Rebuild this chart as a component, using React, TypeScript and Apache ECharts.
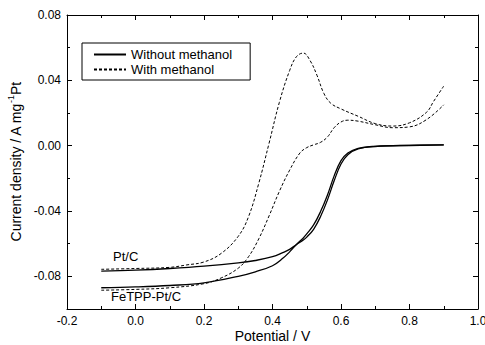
import React, { useEffect, useRef } from "react";
import * as echarts from "echarts";

// Potential (V) and current density (A mg^-1 Pt)
const ptcSolidV = [-0.1, 0, 0.1, 0.2, 0.3, 0.35, 0.4, 0.43, 0.45, 0.47, 0.49, 0.5, 0.52, 0.54, 0.56, 0.58, 0.6, 0.62, 0.65, 0.7, 0.8, 0.9];
const ptcSolidI = [-0.0768, -0.0762, -0.0752, -0.0738, -0.0718, -0.0703, -0.068, -0.0655, -0.0635, -0.0605, -0.0578, -0.056, -0.0512, -0.0435, -0.0335, -0.0215, -0.0112, -0.0055, -0.002, -0.0005, 0.0001, 0.0005];

const feSolidV = [-0.1, 0, 0.1, 0.2, 0.3, 0.35, 0.4, 0.43, 0.45, 0.47, 0.49, 0.5, 0.52, 0.54, 0.56, 0.58, 0.6, 0.62, 0.65, 0.7, 0.8, 0.9];
const feSolidI = [-0.087, -0.0865, -0.0856, -0.084, -0.08, -0.0772, -0.0735, -0.069, -0.065, -0.0605, -0.0565, -0.054, -0.0485, -0.0405, -0.0305, -0.0185, -0.0092, -0.0045, -0.0016, -0.0004, 0.0002, 0.0005];

const ptcDashV = [-0.1, 0, 0.1, 0.15, 0.2, 0.25, 0.3, 0.33, 0.36, 0.39, 0.42, 0.45, 0.47, 0.49, 0.51, 0.53, 0.55, 0.57, 0.6, 0.65, 0.7, 0.75, 0.8, 0.85, 0.87, 0.9];
const ptcDashI = [-0.0757, -0.0752, -0.0745, -0.073, -0.0712, -0.066, -0.0555, -0.0435, -0.023, 0.0015, 0.0265, 0.046, 0.0545, 0.0567, 0.052, 0.043, 0.032, 0.026, 0.0225, 0.018, 0.0135, 0.012, 0.014, 0.0205, 0.027, 0.0365];

const feDashV = [-0.1, 0, 0.1, 0.2, 0.25, 0.3, 0.33, 0.36, 0.39, 0.42, 0.45, 0.48, 0.5, 0.52, 0.54, 0.56, 0.58, 0.6, 0.62, 0.65, 0.7, 0.75, 0.8, 0.85, 0.9];
const feDashI = [-0.0885, -0.088, -0.087, -0.0845, -0.081, -0.075, -0.068, -0.057, -0.043, -0.028, -0.015, -0.0045, -0.0012, 0.0005, 0.002, 0.0052, 0.011, 0.0145, 0.0156, 0.015, 0.0128, 0.011, 0.0115, 0.016, 0.025];

const xTicks = [-0.2, 0, 0.2, 0.4, 0.6, 0.8, 1.0];
const yMajorTicks = [-0.08, -0.04, 0, 0.04, 0.08];
const yMinorTicks = [-0.1, -0.06, -0.02, 0.02, 0.06];
const legendNames = ["Without methanol", "With methanol"];
const curveLabels = ["Pt/C", "FeTPP-Pt/C"];

const FONT = "Liberation Sans, Arial, sans-serif";

function pairs(v: number[], i: number[]) {
  return v.map((x, k) => [x, i[k]]);
}

export default function App() {
  const ref = useRef<HTMLDivElement>(null);
  useEffect(() => {
    if (!ref.current) return;
    const chart = echarts.init(ref.current, null, { renderer: "svg" });
    const axisLine = { show: true, onZero: false, lineStyle: { color: "#000", width: 1 } };
    const yBase = (position: "left" | "right", ticks: number[], len: number, labels: boolean, line: boolean) => ({
      type: "value",
      position,
      min: -0.1,
      max: 0.08,
      splitLine: { show: false },
      axisLine: { ...axisLine, show: line },
      axisTick: { show: true, inside: true, length: len, customValues: ticks, lineStyle: { color: "#000" } },
      axisLabel: {
        show: labels,
        customValues: ticks,
        color: "#000",
        fontSize: 12,
        fontFamily: FONT,
        margin: 6,
        formatter: (v: number) => v.toFixed(2),
      },
    });
    const solid = { color: "#000", width: 1.3, type: "solid" };
    const dashed = { color: "#000", width: 1, type: [3, 2] };
    const option: any = {
      animation: false,
      grid: { left: 67, right: 7, top: 15, bottom: 36, containLabel: false, outerBoundsMode: "none" },
      legend: {
        left: 82,
        top: 43,
        orient: "vertical",
        data: legendNames,
        borderColor: "#000",
        borderWidth: 1,
        padding: [5, 18, 4, 11],
        itemGap: 2,
        itemWidth: 32,
        itemHeight: 14,
        itemStyle: { opacity: 0 },
        textStyle: { color: "#000", fontSize: 13, fontFamily: FONT },
      },
      xAxis: [
        {
          type: "value",
          position: "bottom",
          min: -0.2,
          max: 1.0,
          interval: 0.2,
          splitLine: { show: false },
          axisLine,
          axisTick: { inside: true, length: 5, lineStyle: { color: "#000" } },
          minorTick: { show: true, splitNumber: 2, length: 3, lineStyle: { color: "#000" } },
          axisLabel: {
            color: "#000",
            fontSize: 12,
            fontFamily: FONT,
            margin: 6,
            customValues: xTicks,
            formatter: (v: number) => v.toFixed(1),
          },
          name: "Potential / V",
          nameLocation: "middle",
          nameGap: 20,
          nameMoveOverlap: false,
          nameTextStyle: { color: "#000", fontSize: 14, fontFamily: FONT, lineHeight: 14 },
        },
        {
          type: "value",
          position: "top",
          min: -0.2,
          max: 1.0,
          interval: 0.2,
          splitLine: { show: false },
          axisLine,
          axisTick: { inside: true, length: 5, lineStyle: { color: "#000" } },
          minorTick: { show: true, splitNumber: 2, length: 3, lineStyle: { color: "#000" } },
          axisLabel: { show: false },
        },
      ],
      yAxis: [
        {
          ...yBase("left", yMajorTicks, 5, true, true),
          name: "{a|Current density / A mg}{s|-1}{a|Pt}",
          nameLocation: "middle",
          nameGap: 42,
          nameRotate: 90,
          nameTextStyle: {
            color: "#000",
            fontSize: 14,
            fontFamily: FONT,
            rich: {
              a: { fontSize: 14, fontFamily: FONT, color: "#000" },
              s: { fontSize: 9, fontFamily: FONT, color: "#000", padding: [0, 0, 9, 0] },
            },
          },
        },
        yBase("left", yMinorTicks, 3, false, false),
        yBase("right", yMajorTicks, 5, false, true),
        yBase("right", yMinorTicks, 3, false, false),
      ],
      graphic: [
        {
          type: "text",
          left: 113,
          top: 250,
          style: { text: curveLabels[0], fill: "#000", fontSize: 13, fontFamily: FONT },
        },
        {
          type: "text",
          left: 111,
          top: 290,
          style: { text: curveLabels[1], fill: "#000", fontSize: 13, fontFamily: FONT },
        },
      ],
      series: [
        { name: legendNames[0], type: "line", data: pairs(ptcSolidV, ptcSolidI), showSymbol: false, symbol: "none", smooth: 0.4, lineStyle: solid, itemStyle: { color: "#000" } },
        { name: legendNames[0], type: "line", data: pairs(feSolidV, feSolidI), showSymbol: false, symbol: "none", smooth: 0.4, lineStyle: solid, itemStyle: { color: "#000" } },
        { name: legendNames[1], type: "line", data: pairs(ptcDashV, ptcDashI), showSymbol: false, symbol: "none", smooth: 0.4, lineStyle: dashed, itemStyle: { color: "#000" } },
        { name: legendNames[1], type: "line", data: pairs(feDashV, feDashI), showSymbol: false, symbol: "none", smooth: 0.4, lineStyle: dashed, itemStyle: { color: "#000" } },
      ],
    };
    chart.setOption(option);
    return () => chart.dispose();
  }, []);
  return <div ref={ref} style={{ width: 485, height: 345, position: "absolute", left: 0, top: 0, background: "#fff" }} />;
}
